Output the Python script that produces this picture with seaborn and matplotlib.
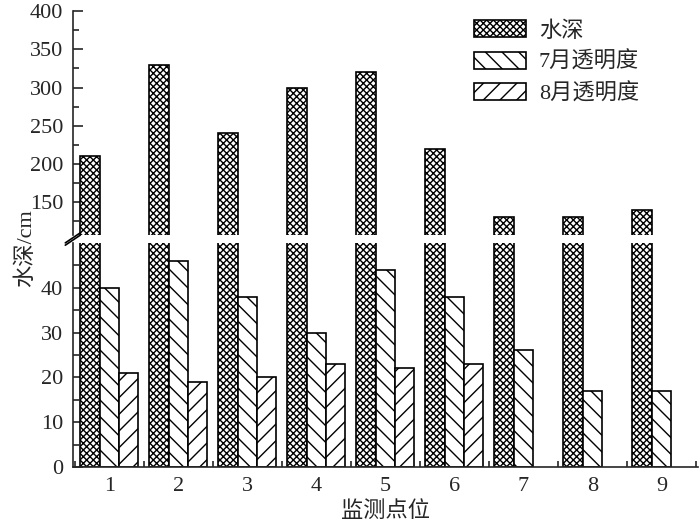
import numpy as np
import pandas as pd
import matplotlib
matplotlib.use('Agg')
import matplotlib.pyplot as plt
import seaborn as sns
from matplotlib.patches import Patch
from matplotlib.ticker import FixedLocator

# data
sites = ['1', '2', '3', '4', '5', '6', '7', '8', '9']
depth = [210, 330, 240, 300, 320, 220, 130, 130, 140]
trans_jul = [40, 46, 38, 30, 44, 38, 26, 17, 17]
trans_aug = [21, 19, 20, 23, 22, 23, np.nan, np.nan, np.nan]
series = ['水深', '7月透明度', '8月透明度']
hatches = ['xxxxx', '\\\\', '//']

df = pd.DataFrame({'site': sites * 3,
                   'value': depth + trans_jul + trans_aug,
                   'series': np.repeat(series, len(sites))})

sns.set_style('ticks')
plt.rcParams['font.family'] = ['Liberation Serif', 'Noto Sans CJK SC']
plt.rcParams['hatch.linewidth'] = 1.0
plt.rcParams['axes.unicode_minus'] = False

fig = plt.figure(figsize=(7, 5.27), dpi=100)
ax_up = fig.add_axes([0.104, 0.554, 0.893, 0.425])
ax_lo = fig.add_axes([0.104, 0.114, 0.893, 0.425])

for ax in (ax_up, ax_lo):
    sns.barplot(data=df, x='site', y='value', hue='series', order=sites,
                hue_order=series, palette={s: 'white' for s in series},
                edgecolor='black', linewidth=1.2, width=0.84,
                errorbar=None, legend=False, ax=ax)
    for cont, h in zip(ax.containers, hatches):
        for bar in cont:
            bar.set_hatch(h)
    ax.set_xlim(-0.53, 8.53)
    ax.set_xlabel('')
    ax.set_ylabel('')
    for side in ('top', 'right'):
        ax.spines[side].set_visible(False)
    for side in ('left', 'bottom'):
        ax.spines[side].set_linewidth(1.2)
    ax.tick_params(which='both', direction='in', width=1.2, labelsize=16)
    ax.tick_params(which='major', length=7)
    ax.tick_params(which='minor', length=4)
    ax.tick_params(axis='y', pad=7)
    ax.tick_params(axis='x', pad=7)

ax_up.set_ylim(107, 400)
ax_up.yaxis.set_major_locator(FixedLocator([150, 200, 250, 300, 350, 400]))
ax_up.yaxis.set_minor_locator(FixedLocator([125, 175, 225, 275, 325, 375]))
ax_up.spines['bottom'].set_visible(False)
ax_up.tick_params(axis='x', which='both', bottom=False, labelbottom=False)

ax_lo.set_ylim(0, 50)
ax_lo.yaxis.set_major_locator(FixedLocator([0, 10, 20, 30, 40]))
ax_lo.yaxis.set_minor_locator(FixedLocator([5, 15, 25, 35, 45]))
ax_lo.xaxis.set_minor_locator(FixedLocator(np.arange(-0.5, 9, 1)))
ax_lo.set_xlabel('监测点位', fontsize=16, labelpad=4)

# break marks on the y axis
kw = dict(color='black', lw=1.2, clip_on=False)
ax_up.plot([-0.012, 0.012], [-0.035, 0.01], transform=ax_up.transAxes, **kw)
ax_lo.plot([-0.012, 0.012], [0.99, 1.035], transform=ax_lo.transAxes, **kw)

fig.text(0.037, 0.53, '水深/cm', rotation=90, fontsize=16, ha='center', va='center')

handles = [Patch(facecolor='white', edgecolor='black', hatch=h, linewidth=1.2)
           for h in hatches]
ax_up.legend(handles, series, loc='upper left', bbox_to_anchor=(0.665, 0.978),
             bbox_transform=fig.transFigure, frameon=False, fontsize=16,
             handlelength=2.3, handleheight=0.8, labelspacing=0.45,
             handletextpad=0.6, borderaxespad=0)

fig.savefig('out.png', dpi=100)
